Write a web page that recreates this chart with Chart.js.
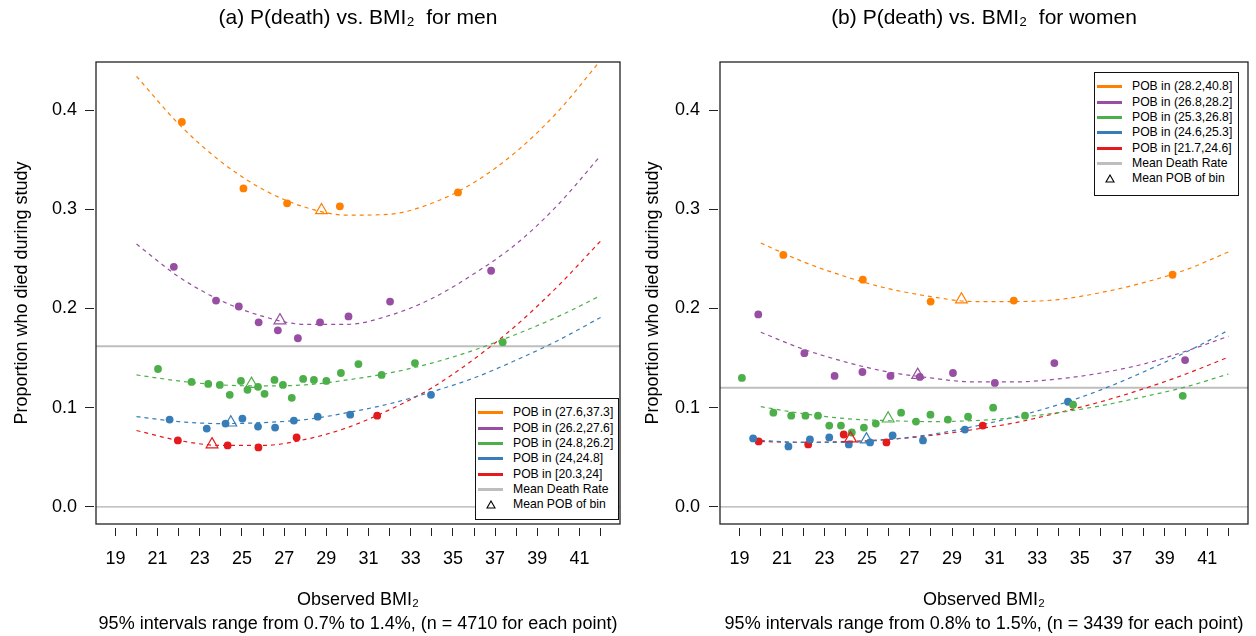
<!DOCTYPE html>
<html>
<head>
<meta charset="utf-8">
<script src="https://cdn.jsdelivr.net/npm/chart.js@4.4.1/dist/chart.umd.min.js"></script>
<style>
  body { margin: 0; background: #fff; }
  #wrap { position: relative; width: 1256px; height: 636px; overflow: hidden; font-family: 'Liberation Sans', Arial, sans-serif; }
  canvas { position: absolute; top: 0; }
  .legend { position: absolute; box-sizing: border-box; border: 1.5px solid #111; background: #fff; padding-top: 6.2px; font-size: 12.2px; color: #000; }
  .row { position: relative; height: 15.33px; line-height: 15.33px; }
  .swatch { position: absolute; left: 2px; top: 6.2px; width: 25px; height: 3px; }
  .lab { position: absolute; left: 37px; white-space: nowrap; }
  .tri { position: absolute; left: 10px; top: 3px; }
</style>
</head>
<body>
<div id="wrap">
  <canvas id="menChart" width="628" height="636" style="left:0"></canvas>
  <canvas id="womenChart" width="632" height="636" style="left:624px"></canvas>
  <div id="menLegend" class="legend" style="left:475px;top:398px;width:144px;height:122px"></div>
  <div id="womenLegend" class="legend" style="left:1094px;top:72px;width:145px;height:124px"></div>
</div>
<script>
// colours of the five POB bins (highest bin first)
const binColors = ['#FF7F00', '#984EA3', '#4DAF4A', '#377EB8', '#E41A1C'];

const xTicks = [19, 20, 21, 22, 23, 24, 25, 26, 27, 28, 29, 30, 31, 32, 33, 34, 35, 36, 37, 38, 39, 40, 41, 42];
const yTicks = [0, 0.1, 0.2, 0.3, 0.4];
const xAxisMin = 18.08, xAxisMax = 42.92;
const yAxisMin = -0.0172, yAxisMax = 0.4484;

const curveX = [20, 22, 24, 26, 28, 30, 32, 34, 36, 38, 40, 42];

// ---- men ----
const menLabels = ['POB in (27.6,37.3]', 'POB in (26.2,27.6]', 'POB in (24.8,26.2]', 'POB in (24,24.8]', 'POB in [20.3,24]'];
const menPointX = [
  [22.15, 25.07, 27.14, 29.64, 35.24],
  [21.77, 23.77, 24.85, 25.79, 26.70, 27.65, 28.70, 30.05, 32.02, 36.81],
  [21.02, 22.61, 23.40, 23.95, 24.42, 24.95, 25.26, 25.76, 26.07, 26.54, 26.94, 27.36, 27.90, 28.41, 29.00, 29.69, 30.52, 31.62, 33.20, 37.36],
  [21.57, 23.33, 24.22, 25.02, 25.76, 26.57, 27.46, 28.59, 30.13, 33.96],
  [21.96, 24.32, 25.78, 27.59, 31.41]
];
const menPointY = [
  [0.388, 0.321, 0.306, 0.303, 0.317],
  [0.242, 0.208, 0.202, 0.186, 0.178, 0.170, 0.186, 0.192, 0.207, 0.238],
  [0.139, 0.126, 0.124, 0.123, 0.113, 0.127, 0.118, 0.121, 0.114, 0.128, 0.123, 0.110, 0.129, 0.128, 0.127, 0.135, 0.144, 0.133, 0.145, 0.166],
  [0.088, 0.079, 0.084, 0.089, 0.081, 0.080, 0.087, 0.091, 0.093, 0.113],
  [0.067, 0.062, 0.060, 0.070, 0.092]
];
const menCurveY = [
  [0.434, 0.386, 0.348, 0.320, 0.302, 0.294, 0.295, 0.306, 0.327, 0.358, 0.399, 0.450],
  [0.265, 0.232, 0.208, 0.192, 0.184, 0.184, 0.193, 0.210, 0.235, 0.265, 0.305, 0.354],
  [0.133, 0.127, 0.123, 0.122, 0.123, 0.128, 0.135, 0.145, 0.158, 0.174, 0.192, 0.213],
  [0.091, 0.086, 0.084, 0.085, 0.088, 0.095, 0.104, 0.116, 0.130, 0.148, 0.168, 0.191],
  [0.077, 0.067, 0.062, 0.062, 0.068, 0.080, 0.098, 0.120, 0.149, 0.183, 0.223, 0.268]
];
const menMeanX = [28.77, 26.80, 25.45, 24.47, 23.58];
const menMeanY = [0.299, 0.188, 0.124, 0.085, 0.063];
const menDeathRate = 0.162;

// ---- women ----
const womenLabels = ['POB in (28.2,40.8]', 'POB in (26.8,28.2]', 'POB in (25.3,26.8]', 'POB in (24.6,25.3]', 'POB in [21.7,24.6]'];
const womenPointX = [
  [21.06, 24.80, 27.99, 31.90, 39.37],
  [19.88, 22.05, 23.47, 24.78, 26.10, 27.48, 29.04, 31.01, 33.81, 39.96],
  [19.11, 20.59, 21.43, 22.10, 22.69, 23.22, 23.77, 24.28, 24.85, 25.41, 26.60, 27.30, 27.98, 28.80, 29.75, 30.93, 32.43, 34.69, 39.85],
  [19.64, 21.30, 22.31, 23.22, 24.14, 25.14, 26.20, 27.63, 29.60, 34.45],
  [19.90, 22.23, 23.90, 25.91, 30.44]
];
const womenPointY = [
  [0.254, 0.229, 0.207, 0.208, 0.234],
  [0.194, 0.155, 0.132, 0.136, 0.132, 0.131, 0.135, 0.125, 0.145, 0.148],
  [0.130, 0.095, 0.092, 0.092, 0.092, 0.082, 0.082, 0.075, 0.080, 0.084, 0.095, 0.086, 0.093, 0.088, 0.091, 0.100, 0.092, 0.103, 0.112],
  [0.069, 0.061, 0.068, 0.070, 0.063, 0.065, 0.072, 0.067, 0.078, 0.106],
  [0.066, 0.063, 0.073, 0.065, 0.082]
];
const womenCurveY = [
  [0.266, 0.247, 0.232, 0.220, 0.212, 0.207, 0.207, 0.209, 0.216, 0.226, 0.239, 0.257],
  [0.176, 0.159, 0.146, 0.136, 0.130, 0.126, 0.126, 0.129, 0.135, 0.144, 0.157, 0.172],
  [0.101, 0.094, 0.089, 0.087, 0.086, 0.087, 0.090, 0.095, 0.102, 0.111, 0.121, 0.134],
  [0.067, 0.065, 0.065, 0.068, 0.073, 0.081, 0.091, 0.103, 0.118, 0.136, 0.156, 0.178],
  [0.066, 0.065, 0.066, 0.068, 0.072, 0.078, 0.085, 0.095, 0.106, 0.119, 0.134, 0.151]
];
const womenMeanX = [29.44, 27.38, 25.99, 24.97, 24.22];
const womenMeanY = [0.209, 0.133, 0.089, 0.068, 0.069];
const womenDeathRate = 0.120;

const FONT = "'Liberation Sans', Arial, sans-serif";

// black frame round the plot region
const boxPlugin = {
  id: 'box',
  afterDraw(chart) {
    const { ctx, chartArea: a } = chart;
    ctx.save();
    ctx.strokeStyle = '#222';
    ctx.lineWidth = 1.3;
    ctx.strokeRect(a.left, a.top, a.right - a.left, a.bottom - a.top);
    ctx.restore();
  }
};

function makeChart(id, cfg) {
  const datasets = [];
  cfg.pointX.forEach((xs, i) => {
    datasets.push({
      type: 'scatter',
      data: xs.map((x, j) => ({ x, y: cfg.pointY[i][j] })),
      pointRadius: 3.9,
      pointBackgroundColor: binColors[i],
      pointBorderWidth: 0,
      order: 0
    });
  });
  datasets.push({
    type: 'scatter',
    data: cfg.meanX.map((x, j) => ({ x, y: cfg.meanY[j] })),
    pointStyle: 'triangle',
    pointRadius: 6.8,
    pointBorderColor: binColors,
    pointBackgroundColor: 'rgba(0,0,0,0)',
    pointBorderWidth: 1.2,
    order: -1
  });
  cfg.curveY.forEach((ys, i) => {
    datasets.push({
      type: 'line',
      data: curveX.map((x, j) => ({ x, y: ys[j] })),
      borderColor: binColors[i],
      borderWidth: 1.2,
      borderDash: [4, 4],
      pointRadius: 0,
      cubicInterpolationMode: 'monotone',
      order: 1
    });
  });
  datasets.push({
    type: 'line',
    data: [{ x: xAxisMin, y: cfg.deathRate }, { x: xAxisMax, y: cfg.deathRate }],
    borderColor: '#bebebe', borderWidth: 2, pointRadius: 0, order: 2
  });
  datasets.push({
    type: 'line',
    data: [{ x: xAxisMin, y: 0 }, { x: xAxisMax, y: 0 }],
    borderColor: '#b0b0b0', borderWidth: 1.2, pointRadius: 0, order: 2
  });

  return new Chart(document.getElementById(id), {
    type: 'scatter',
    data: { datasets },
    options: {
      responsive: false,
      animation: false,
      devicePixelRatio: 1,
      layout: { padding: { left: 0, right: cfg.padRight, top: 0, bottom: 0 } },
      plugins: {
        legend: { display: false },
        tooltip: { enabled: false },
        title: {
          display: true,
          text: cfg.title,
          fullSize: false,
          color: '#000',
          font: { family: FONT, size: 21, weight: 'normal' },
          padding: { top: 5.4, bottom: 31.4 }
        }
      },
      scales: {
        x: {
          type: 'linear',
          min: xAxisMin,
          max: xAxisMax,
          afterBuildTicks: (s) => { s.ticks = xTicks.map(v => ({ value: v })); },
          afterFit: (s) => { s.height = 112; },
          border: { display: false },
          grid: {
            drawOnChartArea: false,
            tickLength: 12,
            tickColor: '#222',
            tickWidth: 1,
            tickBorderDash: [8, 4],
            tickBorderDashOffset: 8
          },
          ticks: {
            autoSkip: false,
            maxRotation: 0,
            minRotation: 0,
            padding: 12,
            color: '#000',
            font: { family: FONT, size: 18 },
            callback: (v) => (v % 2 === 1 ? String(v) : '')
          },
          title: {
            display: true,
            text: cfg.xTitle,
            color: '#000',
            font: { family: FONT, size: 18, lineHeight: 1.333 },
            padding: 0
          }
        },
        y: {
          type: 'linear',
          min: yAxisMin,
          max: yAxisMax,
          afterBuildTicks: (s) => { s.ticks = yTicks.map(v => ({ value: v })); },
          afterFit: (s) => { s.width = 96; },
          border: { display: false },
          grid: {
            drawOnChartArea: false,
            tickLength: 11,
            tickColor: '#222',
            tickWidth: 1,
            tickBorderDash: [9, 2]
          },
          ticks: {
            padding: cfg.yTickPad,
            color: '#000',
            font: { family: FONT, size: 18 },
            callback: (v) => v.toFixed(1)
          },
          title: {
            display: true,
            text: 'Proportion who died during study',
            color: '#000',
            font: { family: FONT, size: 18 },
            padding: { top: cfg.yTitlePad, bottom: 0 }
          }
        }
      }
    },
    plugins: [boxPlugin]
  });
}

function buildLegend(elId, labels) {
  const rows = labels.map((t, i) => ({ text: t, color: binColors[i], tri: false }))
    .concat([{ text: 'Mean Death Rate', color: '#bebebe', tri: false },
             { text: 'Mean POB of bin', color: '#000', tri: true }]);
  document.getElementById(elId).innerHTML = rows.map(r => `
    <div class="row">
      ${r.tri
        ? '<svg class="tri" width="10" height="9"><polygon points="5,1 9,8 1,8" fill="none" stroke="#000" stroke-width="1.1"/></svg>'
        : `<span class="swatch" style="background:${r.color}"></span>`}
      <span class="lab">${r.text}</span>
    </div>`).join('');
}

makeChart('menChart', {
  pointX: menPointX, pointY: menPointY, curveY: menCurveY,
  meanX: menMeanX, meanY: menMeanY, deathRate: menDeathRate,
  title: '(a) P(death) vs. BMI\u2082  for men',
  xTitle: ['Observed BMI\u2082', '95% intervals range from 0.7% to 1.4%, (n = 4710 for each point)'],
  padRight: 2, yTickPad: 8, yTitlePad: 11.2
});
makeChart('womenChart', {
  pointX: womenPointX, pointY: womenPointY, curveY: womenCurveY,
  meanX: womenMeanX, meanY: womenMeanY, deathRate: womenDeathRate,
  title: '(b) P(death) vs. BMI\u2082  for women',
  xTitle: ['Observed BMI\u2082', '95% intervals range from 0.8% to 1.5%, (n = 3439 for each point)'],
  padRight: 7, yTickPad: 9, yTitlePad: 18.2
});

buildLegend('menLegend', menLabels);
buildLegend('womenLegend', womenLabels);
</script>
</body>
</html>
